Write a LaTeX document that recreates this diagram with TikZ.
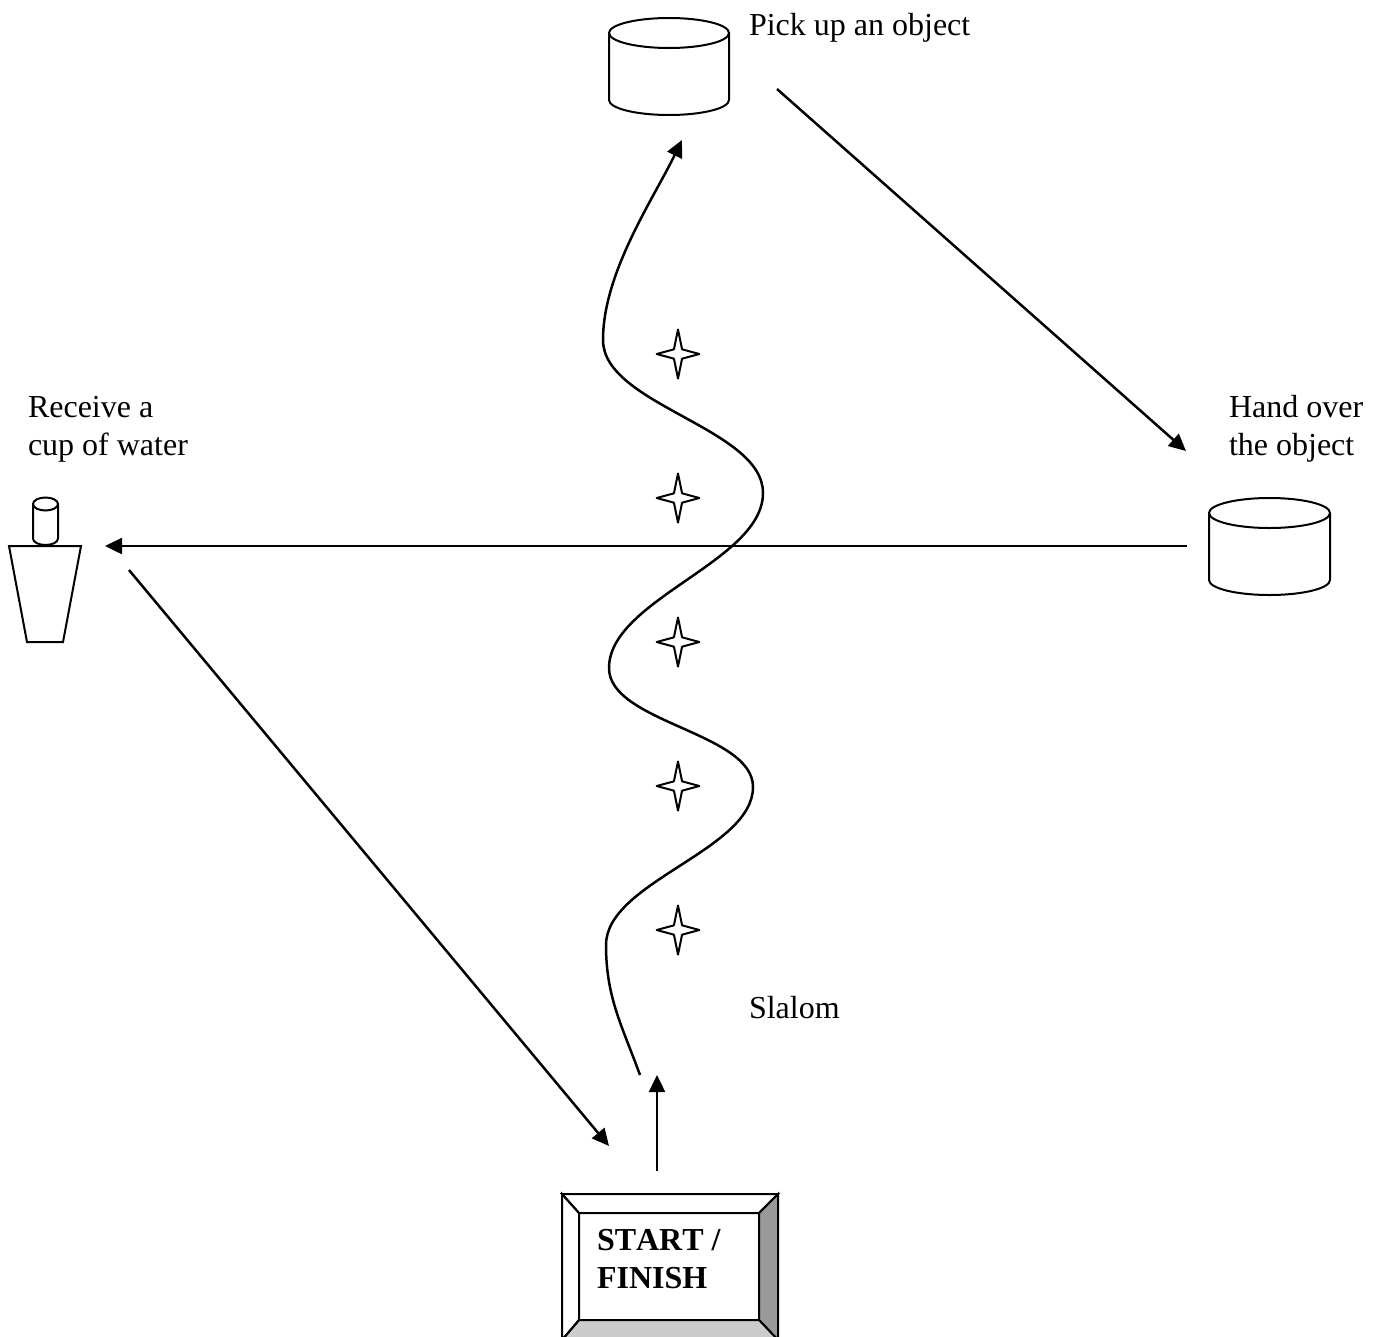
\documentclass[tikz,border=0pt]{standalone}
\usepackage{fontspec}
\setmainfont{Liberation Serif}
\usetikzlibrary{arrows.meta,shapes.geometric}

\begin{document}
\begin{tikzpicture}
[x=1pt,y=1pt,line width=2pt,
  arrowDecorate/.style={->,>={Triangle[length=17pt,width=16pt]},line width=2.5pt},%
  starDecorate/.style={shape=star,star points=4,star point ratio=3.7,draw,line join=round,inner sep=0pt,outer sep=0pt,minimum size=49pt,xscale=0.87,transform shape},%
  labelDecorate/.style={anchor=base west,inner sep=0pt,outer sep=0pt,align=left,font=\fontsize{32}{38}\selectfont}]
\useasboundingbox (0,0) rectangle (1381,-1336);
%% labels
\foreach \nodename/\x/\y/\labeltext in {
  pick/749/-35/{Pick up an object},
  receive/28/-455.5/{Receive a\\cup of water},
  hand/1229/-455.5/{Hand over\\the object},
  slalom/749/-1018.5/{Slalom}}
{
  \node (\nodename) at (\x,\y) [labelDecorate] {\labeltext};
}
%% objects: x of centre, y of centre of top ellipse, rx, ry, length of the side
\foreach \x/\y/\rx/\ry/\len in {669/-33/60/15/67, 1269.5/-513/60.5/15/67, 45.5/-504/12.5/6.5/34.5}
{
  \draw (\x,\y) ellipse ({\rx} and {\ry});
  \draw (\x-\rx,\y) -- (\x-\rx,\y-\len) arc (180:360:{\rx} and {\ry}) -- (\x+\rx,\y);
}
\draw (9,-546) -- (81,-546) -- (63,-642) -- (27,-642) -- cycle;
%% cones
\foreach \nodename/\y in {s1/-354, s2/-498, s3/-642, s4/-786, s5/-930}
{
  \node (\nodename) at (678,\y) [starDecorate] {};
}
%% start button
\coordinate (outerNW) at (562,-1194);
\coordinate (outerNE) at (778,-1194);
\coordinate (outerSE) at (778,-1340);
\coordinate (outerSW) at (562,-1340);
\coordinate (innerNW) at (579,-1213);
\coordinate (innerNE) at (759,-1213);
\coordinate (innerSE) at (759,-1320);
\coordinate (innerSW) at (579,-1320);
\draw[fill=black!40] (outerNE) -- (outerSE) -- (innerSE) -- (innerNE) -- cycle;
\draw[fill=black!20] (outerSW) -- (outerSE) -- (innerSE) -- (innerSW) -- cycle;
\draw (outerNW) -- (outerNE) -- (innerNE) -- (innerNW) -- cycle;
\draw (outerNW) -- (outerSW) -- (innerSW) -- (innerNW) -- cycle;
\node (button) at (597,-1288) [labelDecorate,font=\fontsize{32}{38}\selectfont\bfseries\addfontfeatures{Kerning=Off}] {START /\\FINISH};
%% ends of the arrows
\foreach \nodename/\x/\y in {
  a/777/-89, b/1186/-451, c/1187/-546, d/105/-546, e/129/-570, f/609/-1146,
  g/657/-1171, h/657/-1075, i/640/-1075, j/606/-945, k/753/-787, l/609/-668,
  m/763/-493, n/603/-340, o/682/-140}
{
  \coordinate (\nodename) at (\x,\y);
}
%% edges or lines
\path
\foreach \startnode/\endnode in {a/b, c/d, e/f, g/h}
{
  (\startnode) edge[arrowDecorate] (\endnode)
};
\draw[arrowDecorate] (i) to[out=110,in=-90] (j)
  to[out=90,in=-90,looseness=0.75] (k)
  to[out=90,in=-90,looseness=0.75] (l)
  to[out=90,in=-90,looseness=0.75] (m)
  to[out=90,in=-90,looseness=0.75] (n)
  to[out=90,in=-116,looseness=0.8] (o);
\end{tikzpicture}
\end{document}
